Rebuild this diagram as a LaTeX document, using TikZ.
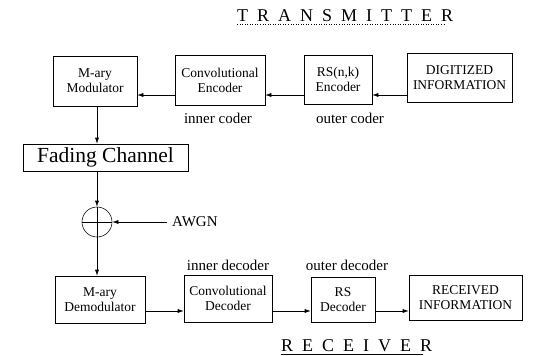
\documentclass[tikz,border=0pt]{standalone}
\usepackage{fontspec}
\setmainfont{Liberation Serif}
\usetikzlibrary{arrows.meta,calc}

\tikzset{
  blk/.style={draw, line width=0.55pt, align=center, inner sep=0pt,
    font=\fontsize{13.5}{15}\selectfont},
  lbl/.style={inner sep=0pt, font=\fontsize{15}{17}\selectfont},
  ttl/.style={inner sep=0pt, anchor=base west,
    font=\fontsize{18}{20}\selectfont\addfontfeature{LetterSpace=50}},
  arr/.style={line width=0.55pt, -{Latex[length=6pt,width=4pt]}},
  ln/.style={line width=0.55pt}
}

\begin{document}
\begin{tikzpicture}[x=1pt,y=-1pt]
\useasboundingbox (0,0) rectangle (542,356);

% transmitter chain
\node[ttl] (tx) at (237,21) {TRANSMITTER};
\draw[ln, dotted] ([yshift=-3pt]tx.base west) -- ([xshift=-9pt,yshift=-3pt]tx.base east);

\node[blk, minimum width=84pt, minimum height=50pt] (mod) at (95,81) {M-ary\\Modulator};
\node[blk, minimum width=90pt, minimum height=50pt] (cenc) at (220,80) {Convolutional\\Encoder};
\node[blk, minimum width=68pt, minimum height=49pt] (rsenc) at (338,79.5) {RS(n,k)\\Encoder};
\node[blk, minimum width=105pt, minimum height=49pt] (dig) at (459.5,77.5) {DIGITIZED\\INFORMATION};

\node[lbl] (inc) at (218,118) {inner coder};
\node[lbl] (outc) at (350,118) {outer coder};

\coordinate (ytx) at (0,95);
\draw[arr] (dig.west |- ytx) -- (rsenc.east |- ytx);
\draw[arr] (rsenc.west |- ytx) -- (cenc.east |- ytx);
\draw[arr] (cenc.west |- ytx) -- (mod.east |- ytx);

% channel
\node[blk, minimum width=165pt, minimum height=27pt,
  font=\fontsize{21.5}{23}\selectfont] (fad) at (105.5,157.5) {Fading Channel};
\coordinate (xch) at (97,0);
\draw[arr] (mod.south -| xch) -- (fad.north -| xch);

\node[draw, circle, line width=0.55pt, minimum size=30pt, inner sep=0pt] (sum) at (97,222) {};
\draw[ln] (sum.north) -- (sum.south) (sum.west) -- (sum.east);
\draw[arr] (fad.south -| xch) -- (sum.north);

\node[lbl, anchor=west] (awgn) at (172,222) {AWGN};
\draw[arr] ([xshift=-5pt]awgn.west) -- (sum.east);

% receiver chain
\node[blk, minimum width=90pt, minimum height=47pt] (demod) at (100,299.5) {M-ary\\Demodulator};
\node[blk, minimum width=88pt, minimum height=47pt] (cdec) at (228,298.5) {Convolutional\\Decoder};
\node[blk, minimum width=64pt, minimum height=45pt] (rsdec) at (343,299.5) {RS\\Decoder};
\node[blk, minimum width=113pt, minimum height=45pt] (recv) at (465.5,297.5) {RECEIVED\\INFORMATION};

\node[lbl] (indec) at (228,265) {inner decoder};
\node[lbl] (outdec) at (347,265) {outer decoder};

\draw[arr] (sum.south) -- (sum.south |- demod.north);

\coordinate (yrx) at (0,311);
\draw[arr] (demod.east |- yrx) -- (cdec.west |- yrx);
\draw[arr] (cdec.east |- yrx) -- (rsdec.west |- yrx);
\draw[arr] (rsdec.east |- yrx) -- (recv.west |- yrx);

\node[ttl] (rx) at (281,351) {RECEIVER};
\draw[ln] ([yshift=-3pt]rx.base west) -- ([xshift=-9pt,yshift=-3pt]rx.base east);
\end{tikzpicture}
\end{document}
